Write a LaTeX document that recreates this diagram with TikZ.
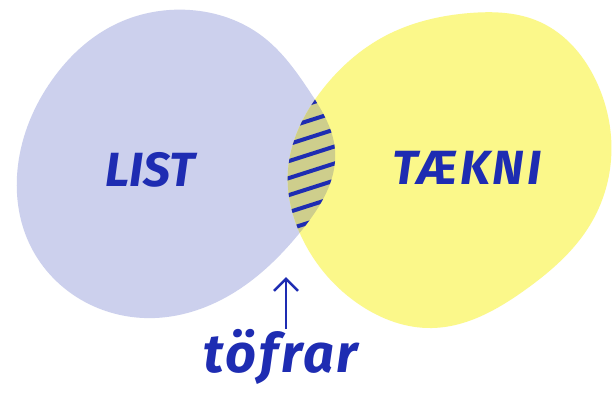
\documentclass[tikz,border=0pt]{standalone}
\usepackage{fontspec}
\setmainfont{Fira Sans}
\usepackage{xcolor}
\usetikzlibrary{arrows.meta,positioning,hobby}

\definecolor{lavender}{RGB}{204,208,237}
\definecolor{sunny}{RGB}{251,248,138}
\definecolor{olive}{RGB}{206,206,140}
\definecolor{ink}{RGB}{30,44,178}

\begin{document}
\begin{tikzpicture}[
    x=1pt, y=-1pt,
    handtext/.style={text=ink, inner sep=0pt, font=\fontsize{48}{48}\selectfont\bfseries\itshape},
    arrow/.style={-{Straight Barb[length=12pt,width=24pt]}, ink, line width=2.5pt},
    hatch/.style={ink, line width=4pt, line cap=round},
    blob/.style={use Hobby shortcut, closed=true}
]
    \useasboundingbox[fill=white] (0,0) rectangle (613,410);

    % the two blobs
    \def\listblob{(335,150) .. (310,92) .. (262,36) .. (190,10) .. (112,26) .. (52,80)
        .. (18,165) .. (30,245) .. (85,302) .. (155,318) .. (235,292) .. (302,230)}
    \def\tekniblob{(611,160) .. (598,85) .. (540,22) .. (470,13) .. (385,36) .. (322,90)
        .. (288,170) .. (303,240) .. (360,305) .. (432,328) .. (525,290) .. (590,225)}
    \fill[lavender, blob] \listblob;
    \fill[sunny, blob] \tekniblob;

    % overlap, hatched
    \begin{scope}
        \clip[blob] \listblob;
        \clip[blob] \tekniblob;
        \fill[olive] (250,60) rectangle (360,260);
        \foreach \y in {102,119,...,240}
            \draw[hatch] (286,\y+9) -- (336,\y-7);
    \end{scope}

    \node[handtext] (list) at (150,170) {LIST};
    \node[handtext] (taekni) at (467,168) {\addfontfeature{LetterSpace=6}TÆKNI};
    \node[handtext, font=\fontsize{54}{54}\selectfont\bfseries\itshape] (magic) at (281,357) {\addfontfeature{LetterSpace=5}töfrar};

    \coordinate (tip) at (286,277);
    \draw[arrow] (magic.north -| tip) -- (tip);

\end{tikzpicture}
\end{document}
